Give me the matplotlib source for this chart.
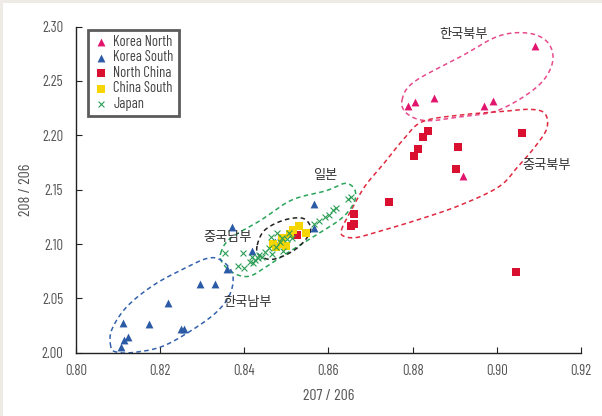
import numpy as np
import matplotlib
matplotlib.use("Agg")
import matplotlib.pyplot as plt
from matplotlib.patches import Rectangle

plt.rcParams['font.family'] = ['Barlow Condensed', 'DejaVu Sans']

# ---------------- data ----------------
korea_north_x = [0.909, 0.879, 0.8805, 0.885, 0.897, 0.899, 0.892]
korea_north_y = [2.282, 2.227, 2.231, 2.234, 2.227, 2.232, 2.163]

korea_south_x = [0.8108, 0.8115, 0.8124, 0.8113, 0.8173, 0.8219, 0.8251, 0.8256,
                 0.8296, 0.8330, 0.8359, 0.8370, 0.8418, 0.8473, 0.8566, 0.8566]
korea_south_y = [2.0055, 2.0117, 2.0144, 2.0276, 2.0267, 2.0460, 2.0215, 2.0221,
                 2.0632, 2.0632, 2.0773, 2.1153, 2.0932, 2.1021, 2.1365, 2.1144]

north_china_x = [0.9059, 0.8836, 0.8824, 0.8813, 0.8803, 0.8909, 0.8903, 0.8743,
                 0.8660, 0.8660, 0.8653, 0.8525, 0.9045]
north_china_y = [2.2018, 2.2036, 2.1981, 2.1871, 2.1806, 2.1889, 2.1687, 2.1383,
                 2.1273, 2.1181, 2.1162, 2.1080, 2.0739]

china_south_x = [0.8530, 0.8515, 0.8547, 0.8490, 0.8476, 0.8490, 0.8500, 0.8469, 0.8509]
china_south_y = [2.1162, 2.1129, 2.1098, 2.1058, 2.0969, 2.0997, 2.0985, 2.0997, 2.1092]

japan_x = [0.8355, 0.8396, 0.8385, 0.8400, 0.8413, 0.8422, 0.8419, 0.8433, 0.8442,
           0.8449, 0.8458, 0.8464, 0.8467, 0.8475, 0.8478, 0.8486, 0.8493, 0.8490,
           0.8502, 0.8506, 0.8513, 0.8566, 0.8578, 0.8593, 0.8602, 0.8611, 0.8618,
           0.8646, 0.8654, 0.8426, 0.8436]
japan_y = [2.0914, 2.0914, 2.0800, 2.0776, 2.0831, 2.0822, 2.0883, 2.0868, 2.0883,
           2.0929, 2.0960, 2.1061, 2.0908, 2.0975, 2.1098, 2.1021, 2.0938, 2.1052,
           2.1043, 2.1098, 2.1052, 2.1181, 2.1215, 2.1251, 2.1267, 2.1313, 2.1331,
           2.1411, 2.1429, 2.0853, 2.0899]

x_ticks = [0.80, 0.82, 0.84, 0.86, 0.88, 0.90, 0.92]
y_ticks = [2.00, 2.05, 2.10, 2.15, 2.20, 2.25, 2.30]

region_labels = ['한국북부', '중국북부', '일본', '중국남부', '한국남부']
region_label_x = [0.8921, 0.9119, 0.8593, 0.8360, 0.8408]
region_label_y = [2.2929, 2.1727, 2.1635, 2.1061, 2.0463]

# outline control points (annotation shapes)
outline_pink = [(0.8775, 2.2325), (0.8804, 2.2493), (0.8914, 2.2723), (0.9005, 2.2914),
                (0.9078, 2.2938), (0.9123, 2.2846), (0.9132, 2.2662), (0.9096, 2.2447),
                (0.9005, 2.2233), (0.8914, 2.2171), (0.8832, 2.2135), (0.8786, 2.2202)]
outline_red = [(0.8631, 2.1129), (0.8650, 2.1282), (0.8686, 2.1527), (0.8732, 2.1742),
               (0.8777, 2.1957), (0.8823, 2.2125), (0.8914, 2.2187), (0.9005, 2.2217),
               (0.9078, 2.2239), (0.9114, 2.2202), (0.9119, 2.2064), (0.9091, 2.1895),
               (0.9050, 2.1711), (0.9005, 2.1527), (0.8914, 2.1359), (0.8823, 2.1236),
               (0.8732, 2.1129), (0.8668, 2.1061), (0.8636, 2.1073)]
outline_green = [(0.8344, 2.0914), (0.8367, 2.1052), (0.8440, 2.1221), (0.8513, 2.1405),
                 (0.8595, 2.1491), (0.8640, 2.1558), (0.8663, 2.1497), (0.8660, 2.1374),
                 (0.8631, 2.1236), (0.8577, 2.1098), (0.8513, 2.0945), (0.8458, 2.0807),
                 (0.8413, 2.0705), (0.8376, 2.0730), (0.8349, 2.0822)]
outline_black = [(0.8431, 2.0991), (0.8449, 2.1129), (0.8495, 2.1221), (0.8540, 2.1236),
                 (0.8558, 2.1144), (0.8545, 2.1037), (0.8513, 2.0929), (0.8467, 2.0859),
                 (0.8435, 2.0899)]
outline_blue = [(0.8083, 2.0055), (0.8085, 2.0209), (0.8121, 2.0423), (0.8185, 2.0623),
                (0.8258, 2.0776), (0.8312, 2.0868), (0.8344, 2.0853), (0.8372, 2.0730),
                (0.8367, 2.0546), (0.8335, 2.0377), (0.8276, 2.0209), (0.8203, 2.0055),
                (0.8130, 2.0000), (0.8094, 2.0009)]

C_KN = '#e2156e'
C_KS = '#2b5aa6'
C_NC = '#d9102f'
C_CS = '#f7d500'
C_JP = '#2a9d55'

fig = plt.figure(figsize=(6.02, 4.16), dpi=100)
fig.patch.set_facecolor('#eeebe6')
fig.patches.append(Rectangle((3/602, 0), 1, 1 - 3/416, transform=fig.transFigure,
                             facecolor='white', edgecolor='none', zorder=-10))
AX = [0.126, 0.152, 0.839, 0.784]
ax = fig.add_axes(AX)
ax.set_facecolor('none')

ax.set_xlim(0.80, 0.92)
ax.set_ylim(2.00, 2.30)
ASPECT = AX[3] * 4.16 / (AX[2] * 6.02)


def closed_curve(pts, n=40):
    # Catmull-Rom closed spline in axes-normalized coords
    p = np.array(pts, dtype=float)
    p[:, 0] = (p[:, 0] - 0.80) / 0.12
    p[:, 1] = (p[:, 1] - 2.00) / 0.30 * ASPECT
    m = len(p)
    out = []
    for i in range(m):
        p0, p1, p2, p3 = p[(i - 1) % m], p[i], p[(i + 1) % m], p[(i + 2) % m]
        t = np.linspace(0, 1, n, endpoint=False)[:, None]
        seg = 0.5 * ((2 * p1) + (-p0 + p2) * t + (2 * p0 - 5 * p1 + 4 * p2 - p3) * t ** 2
                     + (-p0 + 3 * p1 - 3 * p2 + p3) * t ** 3)
        out.append(seg)
    out = np.vstack(out + [out[0][:1]])
    out[:, 0] = out[:, 0] * 0.12 + 0.80
    out[:, 1] = out[:, 1] / ASPECT * 0.30 + 2.00
    return out[:, 0], out[:, 1]


for pts, col in [(outline_pink, '#e64a8c'), (outline_red, '#e0283f'),
                 (outline_green, '#2aa55a'), (outline_black, '#222222'),
                 (outline_blue, '#3362ad')]:
    cx, cy = closed_curve(pts)
    ax.plot(cx, cy, color=col, lw=1.1, ls=(0, (3, 2.2)), zorder=1, clip_on=False)

ax.scatter(korea_north_x, korea_north_y, marker='^', s=32, color=C_KN, lw=0,
           label='Korea North', zorder=3)
ax.scatter(korea_south_x, korea_south_y, marker='^', s=32, color=C_KS, lw=0,
           label='Korea South', zorder=3)
ax.scatter(north_china_x, north_china_y, marker='s', s=26, color=C_NC, lw=0,
           label='North China', zorder=3)
ax.scatter(china_south_x, china_south_y, marker='s', s=26, color=C_CS, lw=0,
           label='China South', zorder=3)
ax.scatter(japan_x, japan_y, marker='x', s=18, color=C_JP, lw=0.8,
           label='Japan', zorder=4)

for t, x, y in zip(region_labels, region_label_x, region_label_y):
    ax.text(x, y, t, fontsize=9.5, color='#333333', ha='center', va='center',
            family=['Noto Sans CJK KR', 'DejaVu Sans'], zorder=5)

ax.set_xticks(x_ticks)
ax.set_yticks(y_ticks)
ax.set_xticklabels([f'{v:.2f}' for v in x_ticks])
ax.set_yticklabels([f'{v:.2f}' for v in y_ticks])
ax.tick_params(direction='in', length=4, width=0.8, colors='#222222',
               labelcolor='#555555', labelsize=10.5)
ax.tick_params(axis='y', pad=9)
ax.tick_params(axis='x', pad=8)
for s in ['top', 'right']:
    ax.spines[s].set_visible(False)
for s in ['left', 'bottom']:
    ax.spines[s].set_color('#222222')
    ax.spines[s].set_linewidth(1.0)

ax.set_xlabel('207 / 206', fontsize=11.5, color='#555555', labelpad=8)
ax.set_ylabel('208 / 206', fontsize=11.5, color='#555555', labelpad=6)

leg = ax.legend(loc='upper left', bbox_to_anchor=(0.025, 0.99), fontsize=10.5,
                frameon=True, fancybox=False, labelspacing=0.1, handletextpad=0.35,
                handlelength=1.0, borderpad=0.35, scatterpoints=1, borderaxespad=0)
leg.get_frame().set_edgecolor('#333333')
leg.get_frame().set_linewidth(2.0)
for t in leg.get_texts():
    t.set_color('#444444')

fig.savefig('out.png', dpi=100)
